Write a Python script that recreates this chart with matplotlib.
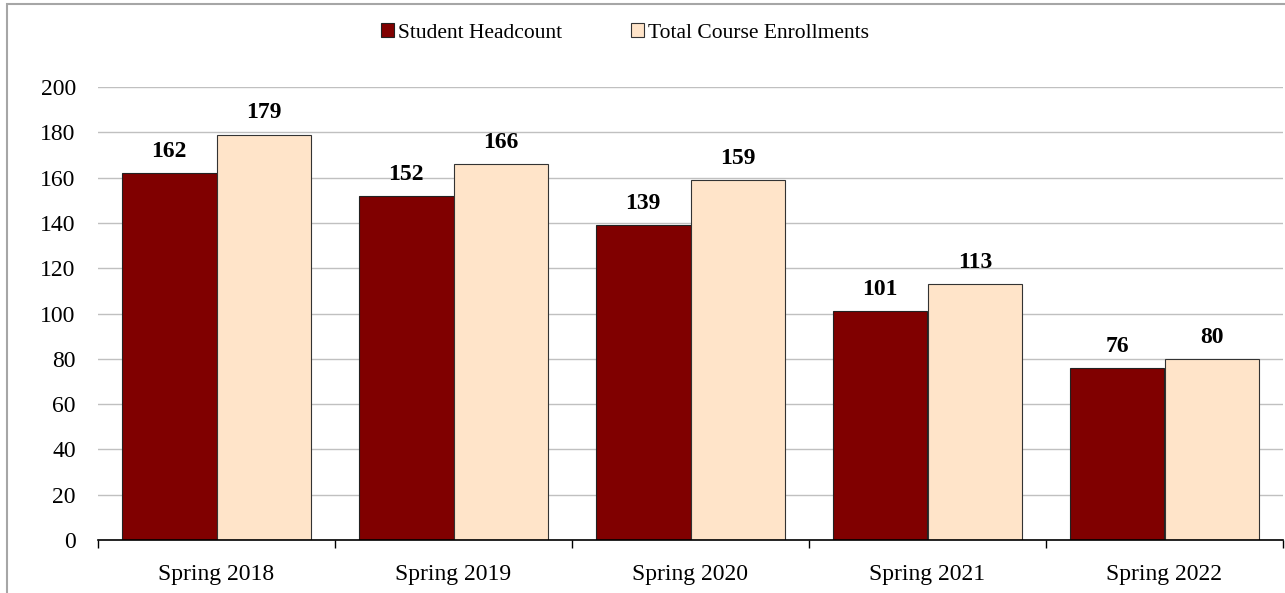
import numpy as np
import matplotlib.pyplot as plt
from matplotlib.patches import Rectangle
from matplotlib.ticker import FixedLocator

# datos
semestres = ["Spring 2018", "Spring 2019", "Spring 2020", "Spring 2021", "Spring 2022"]
headcount = [162, 152, 139, 101, 76]
enrollments = [179, 166, 159, 113, 80]

plt.rcParams['font.family'] = ['Liberation Serif', 'DejaVu Serif']

fig = plt.figure(figsize=(12.85, 5.93), dpi=100)
ax = fig.add_axes([98 / 1285, 1 - 540 / 593, 1185 / 1285, 453 / 593])

x = np.arange(len(semestres))
w = 0.4
b1 = ax.bar(x - w / 2, headcount, w, color="#800000", edgecolor="#222222",
            linewidth=0.8, label="Student Headcount", zorder=3)
b2 = ax.bar(x + w / 2, enrollments, w, color="#FFE4C9", edgecolor="#333333",
            linewidth=0.8, label="Total Course Enrollments", zorder=3)

for barras in (b1, b2):
    for r in barras:
        ax.annotate(str(int(r.get_height())), (r.get_x() + r.get_width() / 2, r.get_height()),
                    xytext=(0, 8), textcoords="offset points", ha="center", va="bottom",
                    fontsize=17, fontweight="bold")

ax.set_xlim(-0.5, len(semestres) - 0.5)
ax.set_ylim(0, 200)
ax.set_yticks(range(0, 201, 20))
ax.set_xticks(x)
ax.set_xticklabels(semestres)
ax.xaxis.set_minor_locator(FixedLocator(np.arange(-0.5, len(semestres), 1)))
ax.tick_params(axis="x", which="major", length=0, pad=17, labelsize=17)
ax.tick_params(axis="x", which="minor", length=6, width=1, color="black")
ax.tick_params(axis="y", length=0, pad=16, labelsize=17)

ax.grid(axis="y", color="#c0c0c0", linewidth=1)
ax.set_axisbelow(True)
for s in ["top", "right", "left"]:
    ax.spines[s].set_visible(False)
ax.spines["bottom"].set_linewidth(1.2)
ax.spines["bottom"].set_zorder(4)

fig.legend(handles=[b1, b2], loc="center", bbox_to_anchor=(625 / 1285, 1 - 33 / 593),
           ncol=2, frameon=False, fontsize=15.5, handlelength=0.6, handleheight=0.6,
           handletextpad=0.2, columnspacing=3.2)

# borde del grafico
fig.add_artist(Rectangle((7 / 1285, -0.1), 1.2, 1.1 - 4 / 593 + 0.0,
                         transform=fig.transFigure, fill=False,
                         edgecolor="#a6a6a6", linewidth=1.5))

fig.savefig("out.png", dpi=100)
